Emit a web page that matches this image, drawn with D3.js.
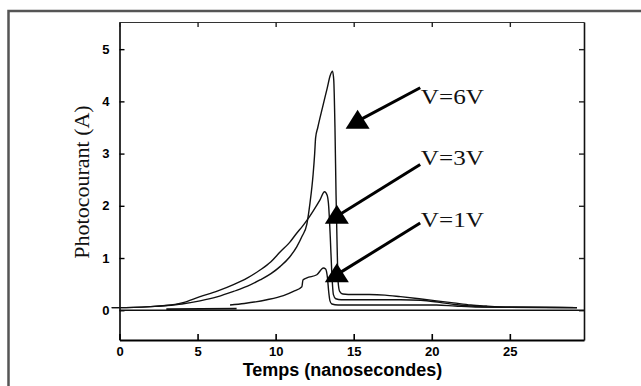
<!DOCTYPE html>
<html>
<head>
<meta charset="utf-8">
<script src="https://cdn.jsdelivr.net/npm/d3@7"></script>
<style>
  body{margin:0;background:#fff}
  svg{display:block}
</style>
</head>
<body>
<svg id="chart" width="641" height="386"></svg>
<script>
// photocurrent traces, [time ns, current A]
var v6=[[-0.5,0.05],[0,0.05],[2,0.07],[3,0.09],[4,0.12],[5.16,0.18],[6.3,0.26],[7.3,0.36],[8.2,0.46],[9,0.58],[9.7,0.7],[10.3,0.84],[10.9,1.02],[11.36,1.22],[11.7,1.42],[12,1.65],[12.2,2.05],[12.4,2.6],[12.5,3.0],[12.56,3.3],[12.7,3.5],[13,3.88],[13.3,4.25],[13.5,4.5],[13.64,4.58],[13.72,4.42],[13.8,3.5],[13.87,2.2],[13.94,1.2],[14.0,0.55],[14.1,0.36],[14.3,0.31],[15,0.3],[16,0.3],[17,0.29],[18,0.26],[19.2,0.22],[20.3,0.18],[21.4,0.14],[22.5,0.1],[23.5,0.08],[25,0.06],[29.3,0.05]]
var v3=[[-0.5,0.05],[0,0.05],[2,0.07],[3,0.09],[4,0.14],[5.16,0.26],[6.3,0.37],[7.3,0.49],[8.2,0.62],[9,0.77],[9.7,0.93],[10.3,1.12],[10.9,1.3],[11.36,1.48],[11.7,1.6],[12,1.72],[12.4,1.9],[12.85,2.12],[13.13,2.27],[13.3,2.2],[13.4,1.98],[13.5,1.4],[13.6,0.7],[13.7,0.3],[13.85,0.22],[14.2,0.2],[16,0.2],[18,0.2],[19.3,0.19],[20.5,0.15],[21.5,0.11],[22.5,0.08],[24,0.06],[29.3,0.05]]
var v1=[[7.08,0.1],[8,0.13],[9.44,0.2],[10.5,0.28],[11.14,0.36],[11.68,0.45],[11.75,0.58],[12,0.62],[12.64,0.68],[13.06,0.81],[13.2,0.79],[13.32,0.62],[13.4,0.35],[13.48,0.18],[13.6,0.12],[14,0.1],[16,0.1],[20.3,0.1],[21.5,0.08],[23,0.06],[29.3,0.05]]
var trace=[[3,0.02],[7.5,0.03]]

var xTicks=[0,5,10,15,20,25]
var yTicks=[0,1,2,3,4,5]

// annotations: label, text anchor [t,v], line start [t,v], triangle tip [t,v]
var labels=['V=6V','V=3V','V=1V']
var labelPos=[[19.3,3.95],[19.3,2.79],[19.3,1.6]]
var lineFrom=[[19.26,4.26],[19.26,2.79],[19.26,1.67]]
var tips=[[15.25,3.84],[13.92,2.02],[13.92,0.9]]

var svg=d3.select('#chart')
var W=641,H=386
var plot={left:119.5,right:584,top:22,bottom:340}

// outer frame of the figure
svg.append('rect')
    .attr('x',8.5).attr('y',11)
    .attr('width',W+20).attr('height',H+20)
    .attr('fill','none')
    .attr('stroke','#555')
    .attr('stroke-width',2.5)

var x=d3.scaleLinear().domain([0,29.75]).range([plot.left,plot.right])
var y=d3.scaleLinear().domain([-0.57,5.52]).range([plot.bottom,plot.top])

var tickFont='"Liberation Sans", Arial, sans-serif'
var serif='"Liberation Serif", "Times New Roman", serif'

// bottom axis
var gx=svg.append('g')
    .attr('transform',`translate(0,${plot.bottom})`)
    .call(d3.axisBottom(x).tickValues(xTicks).tickSize(-6).tickSizeOuter(0).tickPadding(7).tickFormat(d3.format('d')))
gx.select('.domain').attr('stroke','#000').attr('stroke-width',2)
gx.selectAll('line').attr('stroke','#000').attr('stroke-width',1.6)
gx.selectAll('text')
    .attr('font-family',tickFont).attr('font-weight','bold')
    .attr('font-size',13).attr('fill','#000')

// left axis
var gy=svg.append('g')
    .attr('transform',`translate(${plot.left},0)`)
    .call(d3.axisLeft(y).tickValues(yTicks).tickSize(-5).tickSizeOuter(0).tickPadding(10).tickFormat(d3.format('d')))
gy.select('.domain').attr('stroke','#000').attr('stroke-width',1.6)
gy.selectAll('line').attr('stroke','#000').attr('stroke-width',1.4)
gy.selectAll('text')
    .attr('font-family',tickFont).attr('font-weight','bold')
    .attr('font-size',13).attr('fill','#000')

// top and right: ticks only
var gt=svg.append('g')
    .attr('transform',`translate(0,${plot.top})`)
    .call(d3.axisTop(x).tickValues(xTicks).tickSize(-5).tickSizeOuter(0).tickFormat(''))
gt.select('.domain').attr('stroke','#333').attr('stroke-width',1.2)
gt.selectAll('line').attr('stroke','#222').attr('stroke-width',1.4)

var gr=svg.append('g')
    .attr('transform',`translate(${plot.right},0)`)
    .call(d3.axisRight(y).tickValues(yTicks).tickSize(-5).tickSizeOuter(0).tickFormat(''))
gr.select('.domain').attr('stroke','#111').attr('stroke-width',1.6)
gr.selectAll('line').attr('stroke','#222').attr('stroke-width',1.4)

// zero line
svg.append('line')
    .attr('x1',x(0)).attr('x2',plot.right)
    .attr('y1',y(0)).attr('y2',y(0))
    .attr('stroke','#111').attr('stroke-width',1.6)

var line=d3.line()
    .x(d=>x(d[0]))
    .y(d=>y(d[1]))
    .curve(d3.curveMonotoneX)

svg.append('g')
    .attr('id','traces')
    .selectAll('path')
    .data([v6,v3,v1])
    .join('path')
    .attr('d',line)
    .attr('fill','none')
    .attr('stroke','#111')
    .attr('stroke-width',1.4)

svg.append('path')
    .attr('d',line(trace))
    .attr('fill','none')
    .attr('stroke','#111')
    .attr('stroke-width',1.8)

// arrows
var triW=24, triH=19
var ann=labels.map((l,i)=>({label:l,pos:labelPos[i],from:lineFrom[i],tip:tips[i]}))
var ga=svg.append('g').attr('id','annotations')
ga.selectAll('line')
    .data(ann)
    .join('line')
    .attr('x1',d=>x(d.from[0]))
    .attr('y1',d=>y(d.from[1]))
    .attr('x2',d=>x(d.tip[0]))
    .attr('y2',d=>y(d.tip[1])+triH*0.6)
    .attr('stroke','#000')
    .attr('stroke-width',3)
ga.selectAll('path')
    .data(ann)
    .join('path')
    .attr('d',d=>{
        var tx=x(d.tip[0]), ty=y(d.tip[1])
        var p=d3.path()
        p.moveTo(tx,ty)
        p.lineTo(tx+triW/2,ty+triH)
        p.lineTo(tx-triW/2,ty+triH)
        p.closePath()
        return p.toString()
    })
    .attr('fill','#000')
ga.selectAll('text')
    .data(ann)
    .join('text')
    .attr('x',d=>x(d.pos[0]))
    .attr('y',d=>y(d.pos[1]))
    .attr('font-family',serif)
    .attr('font-size',22)
    .attr('textLength',63)
    .attr('lengthAdjust','spacingAndGlyphs')
    .attr('fill','#111')
    .text(d=>d.label)

// axis titles
svg.append('text')
    .attr('x',342.5).attr('y',376)
    .attr('text-anchor','middle')
    .attr('font-family',tickFont)
    .attr('font-weight','bold')
    .attr('font-size',18)
    .attr('fill','#000')
    .text('Temps (nanosecondes)')

svg.append('text')
    .attr('transform','translate(89,182) rotate(-90)')
    .attr('text-anchor','middle')
    .attr('font-family',serif)
    .attr('font-size',22)
    .attr('fill','#111')
    .text('Photocourant (A)')
</script>
</body>
</html>
